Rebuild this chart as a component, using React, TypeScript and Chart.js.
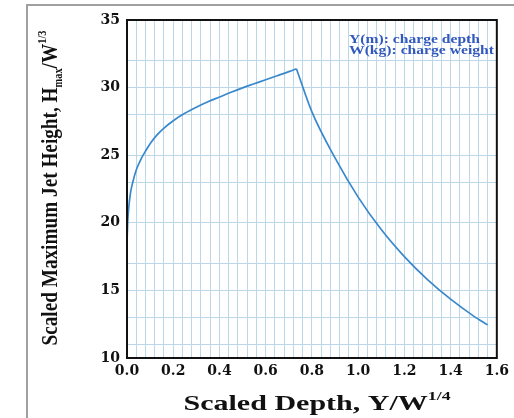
import React, { useEffect, useRef } from "react";
import { Chart, registerables } from "chart.js";

Chart.register(...registerables);

// Rising branch (scaled depth vs scaled max jet height)
const riseDepth = [0.0, 0.003, 0.008, 0.015, 0.025, 0.04, 0.06, 0.08, 0.1, 0.13, 0.16, 0.2, 0.25, 0.3, 0.35, 0.4, 0.45, 0.5, 0.55, 0.6, 0.65, 0.7, 0.733];
const riseHeight = [18.5, 20.0, 21.2, 22.2, 23.0, 23.9, 24.7, 25.3, 25.85, 26.5, 27.0, 27.55, 28.1, 28.55, 28.95, 29.3, 29.65, 29.98, 30.28, 30.58, 30.88, 31.18, 31.4];
// Falling branch
const fallDepth = [0.733, 0.8, 0.9, 1.0, 1.1, 1.2, 1.3, 1.4, 1.5, 1.56];
const fallHeight = [31.4, 28.2, 24.8, 21.9, 19.5, 17.5, 15.8, 14.35, 13.1, 12.45];

const xMin = 0;
const xMax = 1.6;
const xGridCount = 40; // grid every 0.04
const xLabelValues = [0, 0.2, 0.4, 0.6, 0.8, 1.0, 1.2, 1.4, 1.6];
const yMin = 10;
const yMax = 35;
const yGridValues = [10, 11, 13, 15, 17, 20, 23, 25, 28, 30, 32, 35];
const yLabelValues = [10, 15, 20, 25, 30, 35];

const yTitleParts = ["Scaled Maximum Jet Height, H", "max", "/W", "1/3"];
const xTitleParts = ["Scaled Depth, Y/W", "1/4"];
const notes = ["Y(m): charge depth", "W(kg): charge weight"];

const SERIF = '"Liberation Serif", "DejaVu Serif", serif';
const WIDE_SERIF = '"DejaVu Serif", "Liberation Serif", serif';

type Seg = { text: string; size: number; dy: number };

function drawRich(
  ctx: CanvasRenderingContext2D,
  segs: Seg[],
  cx: number,
  cy: number,
  targetWidth: number,
  rot: number,
  color: string
) {
  ctx.save();
  let total = 0;
  const widths: number[] = [];
  for (const s of segs) {
    ctx.font = `bold ${s.size}px ${SERIF}`;
    const w = ctx.measureText(s.text).width;
    widths.push(w);
    total += w;
  }
  const sx = targetWidth / total;
  ctx.translate(cx, cy);
  ctx.rotate(rot);
  ctx.scale(sx, 1);
  ctx.fillStyle = color;
  ctx.textBaseline = "alphabetic";
  ctx.textAlign = "left";
  let x = -total / 2;
  segs.forEach((s, i) => {
    ctx.font = `bold ${s.size}px ${SERIF}`;
    ctx.fillText(s.text, x, s.dy);
    x += widths[i];
  });
  ctx.restore();
}

const decorPlugin = {
  id: "decor",
  afterDraw(chart: any) {
    const ctx: CanvasRenderingContext2D = chart.ctx;
    const a = chart.chartArea;
    // plot frame
    ctx.save();
    ctx.strokeStyle = "#111";
    ctx.lineWidth = 2;
    ctx.strokeRect(a.left, a.top, a.right - a.left, a.bottom - a.top);
    ctx.restore();
    // y title
    drawRich(
      ctx,
      [
        { text: yTitleParts[0], size: 24, dy: 0 },
        { text: yTitleParts[1], size: 13, dy: 5 },
        { text: yTitleParts[2], size: 24, dy: 0 },
        { text: yTitleParts[3], size: 13, dy: -11 },
      ],
      57,
      188,
      315,
      -Math.PI / 2,
      "#111"
    );
    // x title
    drawRich(
      ctx,
      [
        { text: xTitleParts[0], size: 22, dy: 0 },
        { text: xTitleParts[1], size: 13, dy: -10 },
      ],
      317,
      410,
      267,
      0,
      "#111"
    );
    // notes
    ctx.save();
    ctx.fillStyle = "#3158bd";
    ctx.textAlign = "left";
    ctx.textBaseline = "alphabetic";
    const noteW = [131, 145];
    const noteY = [43, 54];
    notes.forEach((t, i) => {
      ctx.save();
      ctx.font = `bold 12px ${SERIF}`;
      const w = ctx.measureText(t).width;
      ctx.translate(349, noteY[i]);
      ctx.scale(noteW[i] / w, 1);
      ctx.fillText(t, 0, 0);
      ctx.restore();
    });
    ctx.restore();
  },
};

export default function App() {
  const ref = useRef<HTMLCanvasElement | null>(null);
  useEffect(() => {
    if (!ref.current) return;
    const chart = new Chart(ref.current, {
      type: "line",
      data: {
        datasets: [
          {
            data: riseDepth.map((x, i) => ({ x, y: riseHeight[i] })),
            borderColor: "#3a88cc",
            borderWidth: 1.7,
            pointRadius: 0,
            cubicInterpolationMode: "monotone",
            fill: false,
          },
          {
            data: fallDepth.map((x, i) => ({ x, y: fallHeight[i] })),
            borderColor: "#3a88cc",
            borderWidth: 1.7,
            pointRadius: 0,
            cubicInterpolationMode: "monotone",
            fill: false,
          },
        ],
      },
      options: {
        animation: false,
        responsive: false,
        layout: { padding: { left: 0, right: 6, top: 20, bottom: 0 } },
        plugins: { legend: { display: false }, tooltip: { enabled: false } },
        scales: {
          x: {
            type: "linear",
            min: xMin,
            max: xMax,
            afterBuildTicks: (s: any) => {
              const t = [];
              for (let i = 0; i <= xGridCount; i++) t.push({ value: (i * (xMax - xMin)) / xGridCount + xMin });
              s.ticks = t;
            },
            afterFit: (s: any) => {
              s.height = 60;
            },
            grid: { color: "#bcd7e8", lineWidth: 1, drawTicks: false },
            border: { display: false },
            ticks: {
              autoSkip: false,
              maxRotation: 0,
              padding: 5,
              color: "#111",
              font: { family: WIDE_SERIF, size: 14, weight: "bold" },
              callback: (v: any) => {
                const n = Number(v);
                return xLabelValues.some((l) => Math.abs(l - n) < 1e-6) ? n.toFixed(1) : "";
              },
            },
          },
          y: {
            type: "linear",
            min: yMin,
            max: yMax,
            afterBuildTicks: (s: any) => {
              s.ticks = yGridValues.map((v) => ({ value: v }));
            },
            afterFit: (s: any) => {
              s.width = 127;
            },
            grid: { color: "#bcd7e8", lineWidth: 1, drawTicks: false },
            border: { display: false },
            ticks: {
              autoSkip: false,
              padding: 7,
              color: "#111",
              font: { family: WIDE_SERIF, size: 14, weight: "bold" },
              callback: (v: any) => {
                const n = Number(v);
                return yLabelValues.includes(n) ? String(n) : "";
              },
            },
          },
        },
      },
      plugins: [decorPlugin],
    } as any);
    return () => chart.destroy();
  }, []);

  return (
    <div style={{ position: "fixed", left: 0, top: 0, width: 514, height: 418, background: "#fff", overflow: "hidden" }}>
      <div
        style={{
          position: "absolute",
          left: 26,
          top: 4,
          width: 600,
          height: 600,
          borderLeft: "2px solid #a0a0a0",
          borderTop: "2px solid #a0a0a0",
        }}
      />
      <canvas ref={ref} width={514} height={418} style={{ position: "absolute", left: 0, top: 0 }} />
    </div>
  );
}
